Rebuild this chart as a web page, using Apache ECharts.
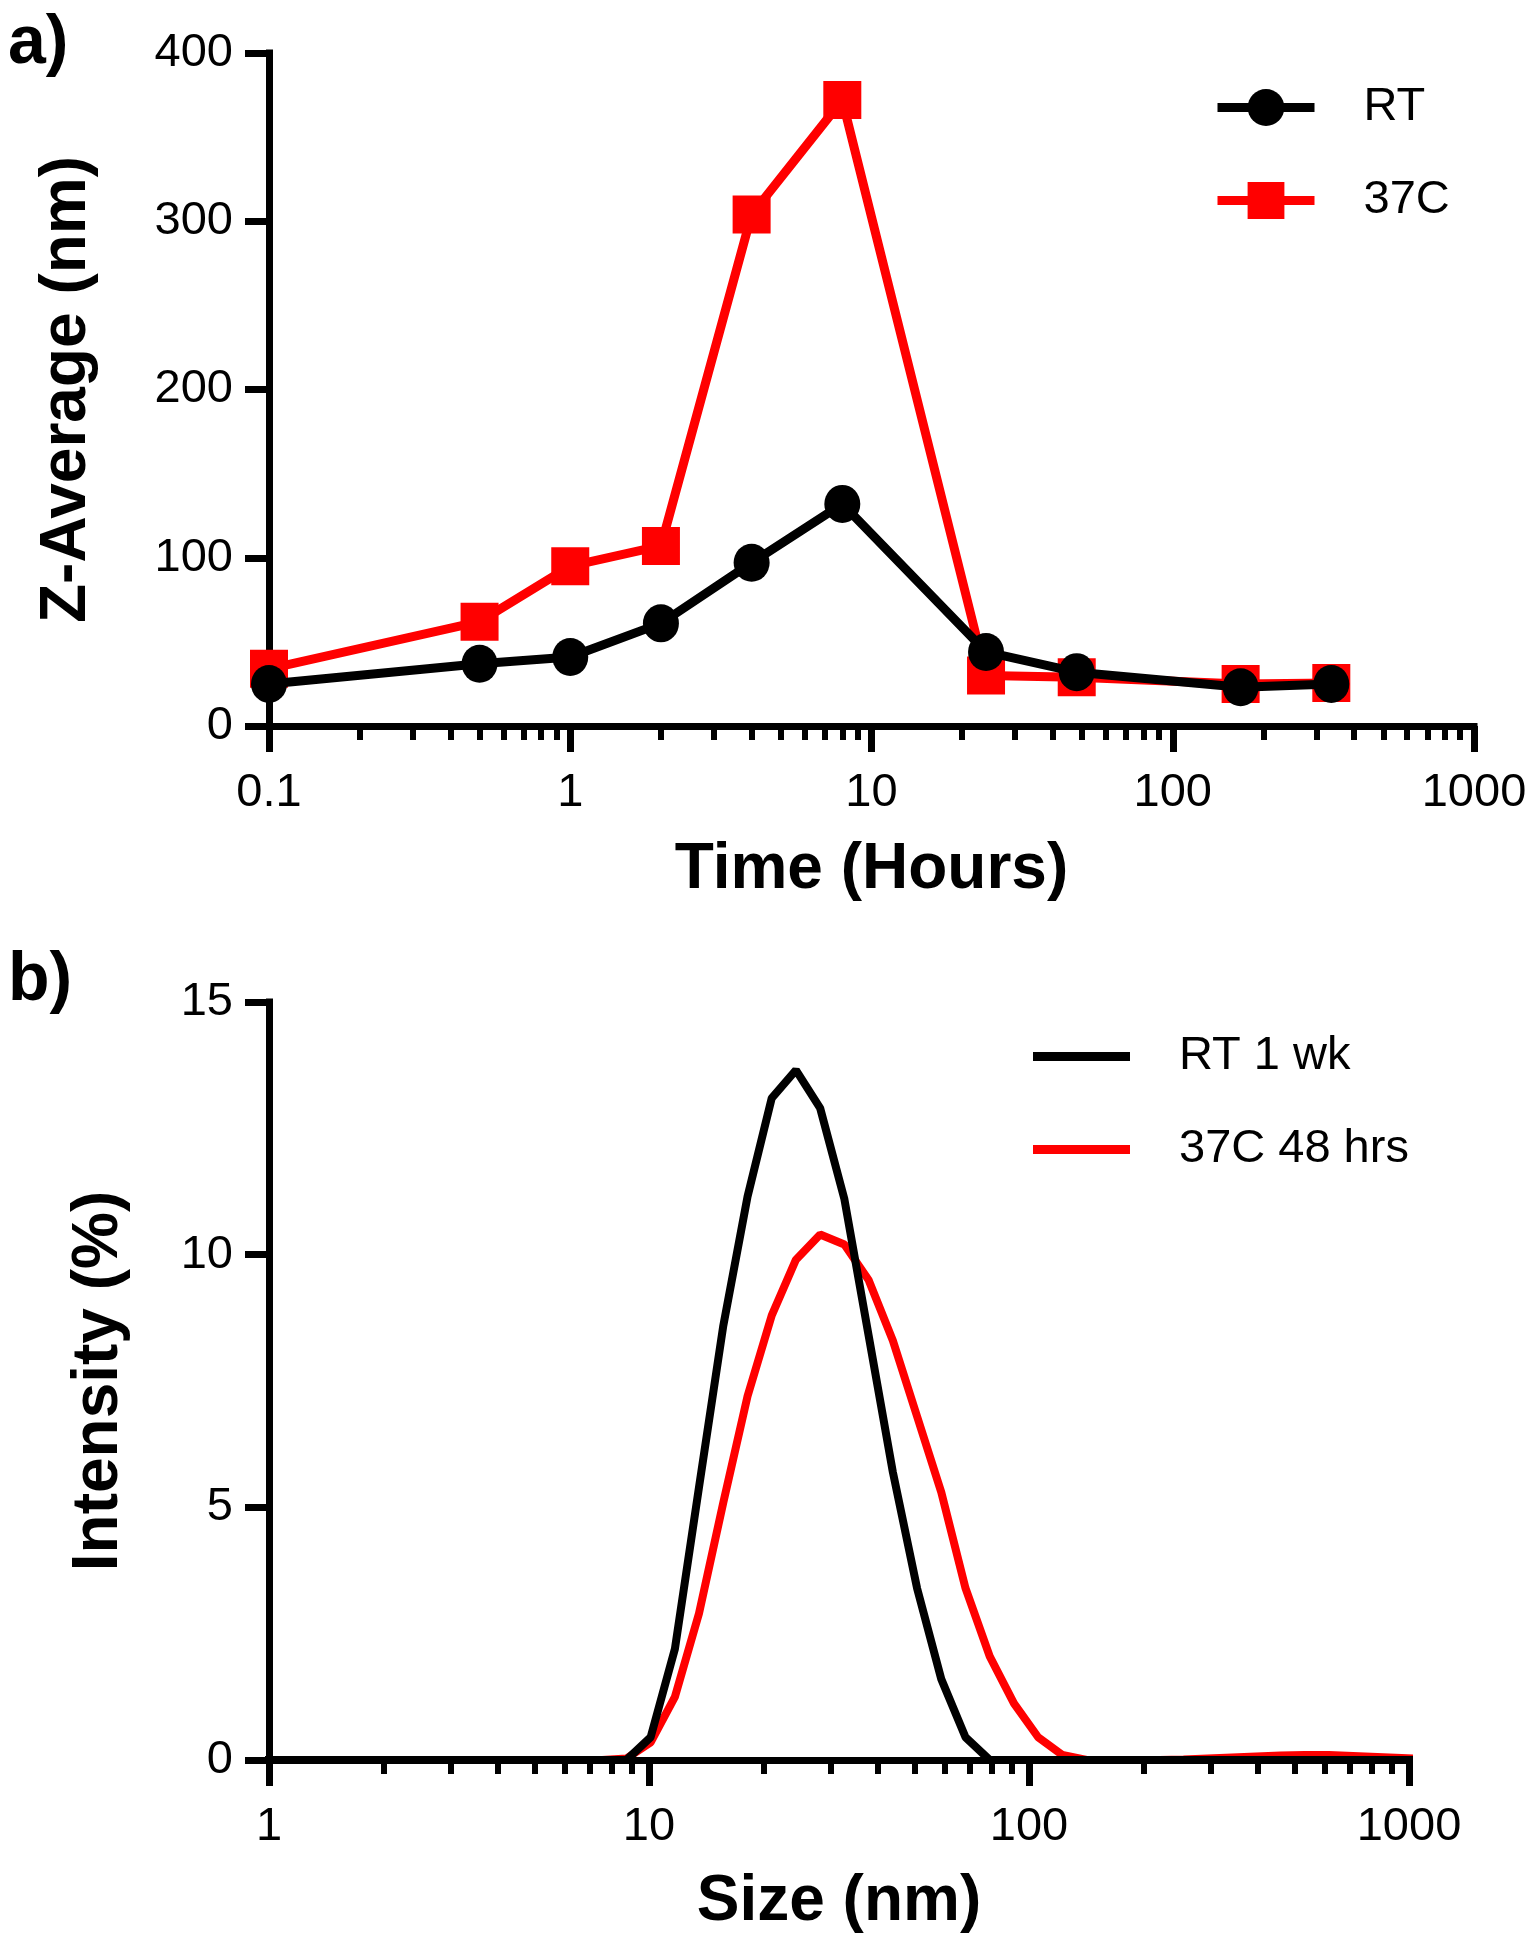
<!DOCTYPE html>
<html><head><meta charset="utf-8">
<script src="https://cdn.jsdelivr.net/npm/echarts@6/dist/echarts.min.js"></script>
<style>html,body{margin:0;padding:0;background:#fff}#c{width:1536px;height:1950px}</style>
</head><body><div id="c"></div><script>
// ---- Panel a data ----
const timeHours = [0.1, 0.5, 1, 2, 4, 8, 24, 48, 168, 336];
const zAvgRT    = [25, 37, 41, 61, 97, 132, 44, 32, 23, 25];
const zAvg37C   = [34, 62, 95, 107, 304, 372, 30, 29, 25, 25.5];
const xTicksA   = [0.1, 1, 10, 100, 1000];
const yTicksA   = [0, 100, 200, 300, 400];

// ---- Panel b data ----
const sizeNm = [0.9649, 1.117, 1.294, 1.499, 1.736, 2.010, 2.328, 2.696, 3.122, 3.615, 4.187, 4.849, 5.615, 6.503, 7.531,
  8.721, 10.10, 11.70, 13.54, 15.69, 18.17, 21.04, 24.36, 28.21, 32.67, 37.84, 43.82, 50.75, 58.77, 68.06, 78.82,
  91.28, 105.7, 122.4, 141.8, 164.2, 190.1, 220.2, 255.0, 295.3, 342.0, 396.1, 458.7, 531.2, 615.1, 712.4, 825.0, 955.4, 1106];
const intensityRT1wk = [0, 0, 0, 0, 0, 0, 0, 0, 0, 0, 0, 0, 0, 0, 0,
  0, 0.45, 2.2, 5.4, 8.6, 11.15, 13.1, 13.65, 12.9, 11.1, 8.4, 5.7, 3.4, 1.6, 0.45, 0,
  0, 0, 0, 0, 0, 0, 0, 0, 0, 0, 0, 0, 0, 0, 0, 0, 0, 0];
const intensity37C48h = [0, 0, 0, 0, 0, 0, 0, 0, 0, 0, 0, 0, 0, 0, 0,
  0.03, 0.35, 1.25, 2.9, 5.1, 7.2, 8.8, 9.9, 10.4, 10.2, 9.5, 8.3, 6.8, 5.3, 3.4, 2.05,
  1.12, 0.45, 0.1, 0, 0, 0, 0, 0.01, 0.03, 0.05, 0.07, 0.09, 0.1, 0.1, 0.08, 0.06, 0.04, 0.02];
const xTicksB = [1, 10, 100, 1000];
const yTicksB = [0, 5, 10, 15];

function minorTicks(eLo, eHi) {
  const out = [];
  for (let e = eLo; e < eHi; e++) {
    const d = Math.pow(10, e);
    for (let m = 2; m <= 9; m++) out.push(+(d * m).toPrecision(6));
  }
  return out;
}
const zip = (xs, ys) => xs.map((x, i) => [x, ys[i]]);

const FONT = 'Liberation Sans, Arial, sans-serif';
const BLACK = '#000000', RED = '#ff0000';
const AXW = 7;

const gridA = { left: 269, top: 53, width: 1205, height: 673 };
const gridB = { left: 269, top: 1002, width: 1140, height: 758 };

function mainLogX(gridIndex, min, max, ticks, name, nameGap, z) {
  return {
    type: 'log', logBase: 10, gridIndex, min, max, z,
    axisLine: { show: true, lineStyle: { color: BLACK, width: AXW, cap: 'square' } },
    axisTick: { show: true, customValues: ticks, length: 26, lineStyle: { color: BLACK, width: AXW } },
    minorTick: { show: false },
    axisLabel: { show: true, customValues: ticks, margin: 44, fontSize: 47, color: BLACK, fontFamily: FONT,
      formatter: v => String(+(+v).toPrecision(6)) },
    splitLine: { show: false },
    name, nameLocation: 'middle', nameGap,
    nameTextStyle: { fontSize: 64, fontWeight: 'bold', color: BLACK, fontFamily: FONT }
  };
}
function minorLogX(gridIndex, min, max, ticks, z) {
  return {
    type: 'log', logBase: 10, gridIndex, min, max, z,
    axisLine: { show: false },
    axisTick: { show: true, customValues: ticks, length: 14, lineStyle: { color: BLACK, width: 6 } },
    axisLabel: { show: false },
    splitLine: { show: false }
  };
}
function mainY(gridIndex, min, max, interval, name, nameGap) {
  return {
    type: 'value', gridIndex, min, max, interval,
    axisLine: { show: true, lineStyle: { color: BLACK, width: AXW, cap: 'square' } },
    axisTick: { show: true, length: 24, lineStyle: { color: BLACK, width: AXW } },
    axisLabel: { show: true, margin: 36, fontSize: 47, color: BLACK, fontFamily: FONT },
    splitLine: { show: false },
    name, nameLocation: 'middle', nameGap,
    nameTextStyle: { fontSize: 64, fontWeight: 'bold', color: BLACK, fontFamily: FONT }
  };
}
const hiddenY = gi => ({ type: 'value', gridIndex: gi, min: 0, max: 1, show: false });

const chart = echarts.init(document.getElementById('c'), null, { renderer: 'canvas' });
chart.setOption({
  animation: false,
  backgroundColor: '#ffffff',
  grid: [gridA, gridA, gridB, gridB],
  xAxis: [
    mainLogX(0, xTicksA[0], xTicksA[xTicksA.length - 1], xTicksA, 'Time (Hours)', 112, 0),
    minorLogX(1, xTicksA[0], xTicksA[xTicksA.length - 1], minorTicks(-1, 3), 0),
    mainLogX(2, xTicksB[0], xTicksB[xTicksB.length - 1], xTicksB, 'Size (nm)', 110, 10),
    minorLogX(3, xTicksB[0], xTicksB[xTicksB.length - 1], minorTicks(0, 3), 10)
  ],
  yAxis: [
    mainY(0, yTicksA[0], yTicksA[yTicksA.length - 1], yTicksA[1] - yTicksA[0], 'Z-Average (nm)', 170),
    hiddenY(1),
    mainY(2, yTicksB[0], yTicksB[yTicksB.length - 1], yTicksB[1] - yTicksB[0], 'Intensity (%)', 138),
    hiddenY(3)
  ],
  legend: [
    { data: ['RT', '37C'], orient: 'vertical', left: 1208, top: 79, itemWidth: 97, itemHeight: 46, itemGap: 46,
      lineStyle: { width: 9 },
      textStyle: { fontSize: 47, lineHeight: 46, color: BLACK, fontFamily: FONT, padding: [0, 0, 0, 44] } },
    { data: ['RT 1 wk', '37C 48 hrs'], orient: 'vertical', left: 1028, top: 1028, itemWidth: 97, itemHeight: 9,
      icon: 'rect', itemGap: 46,
      textStyle: { fontSize: 47, lineHeight: 40, color: BLACK, fontFamily: FONT, padding: [0, 0, 0, 44] } }
  ],
  graphic: [
    { type: 'text', left: 8, top: 10, style: { text: 'a)', font: 'bold 68px Liberation Sans', fill: BLACK } },
    { type: 'text', left: 8, top: 947, style: { text: 'b)', font: 'bold 68px Liberation Sans', fill: BLACK } }
  ],
  series: [
    { name: '37C', type: 'line', xAxisIndex: 0, yAxisIndex: 0, data: zip(timeHours, zAvg37C),
      symbol: 'rect', symbolSize: [38, 38], z: 2,
      lineStyle: { color: RED, width: 9 }, itemStyle: { color: RED } },
    { name: 'RT', type: 'line', xAxisIndex: 0, yAxisIndex: 0, data: zip(timeHours, zAvgRT),
      symbol: 'circle', symbolSize: [36, 38], z: 3,
      lineStyle: { color: BLACK, width: 9 }, itemStyle: { color: BLACK } },
    { name: '37C 48 hrs', type: 'line', xAxisIndex: 2, yAxisIndex: 2, data: zip(sizeNm, intensity37C48h),
      symbol: 'none', showSymbol: false, clip: true, z: 2,
      lineStyle: { color: RED, width: 8 }, itemStyle: { color: RED } },
    { name: 'RT 1 wk', type: 'line', xAxisIndex: 2, yAxisIndex: 2, data: zip(sizeNm, intensityRT1wk),
      symbol: 'none', showSymbol: false, clip: true, z: 3,
      lineStyle: { color: BLACK, width: 8 }, itemStyle: { color: BLACK } }
  ]
});
</script></body></html>
